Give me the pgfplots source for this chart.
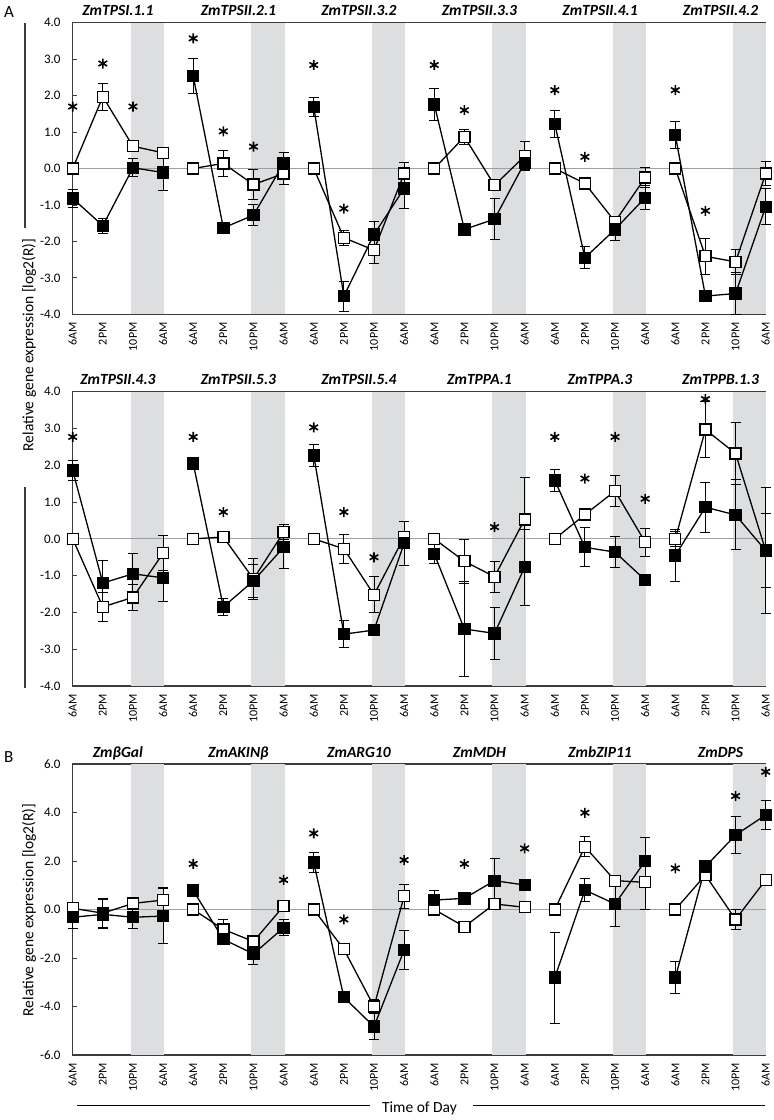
\documentclass[border=0pt]{standalone}
\usepackage{fontspec}
\setmainfont{Carlito}
\usepackage{pgfplots}
\usepackage{pgfplotstable}
\pgfplotsset{compat=1.18}

\definecolor{shade}{RGB}{221,222,224}
\definecolor{axgray}{RGB}{60,60,60}

% columns: x, open mean, open err, filled mean, filled err
\pgfplotstableread{
x o oe f fe
0 0 0 -0.82 0.25
1 1.97 0.37 -1.57 0.2
2 0.61 0.1 0.02 0.25
3 0.43 0.12 -0.11 0.5
3.5 nan nan nan nan
4 0 0 2.53 0.48
5 0.14 0.35 -1.63 0.05
6 -0.44 0.4 -1.28 0.28
7 -0.14 0.3 0.14 0.3
7.5 nan nan nan nan
8 0 0 1.69 0.27
9 -1.9 0.2 -3.5 0.41
10 -2.24 0.36 -1.81 0.35
11 -0.14 0.3 -0.55 0.55
11.5 nan nan nan nan
12 0 0 1.76 0.43
13 0.87 0.2 -1.67 0.1
14 -0.46 0.1 -1.39 0.57
15 0.34 0.4 0.16 0.2
15.5 nan nan nan nan
16 0 0 1.22 0.38
17 -0.41 0.05 -2.45 0.3
18 -1.46 0.1 -1.67 0.3
19 -0.25 0.28 -0.8 0.33
19.5 nan nan nan nan
20 0 0 0.91 0.37
21 -2.41 0.5 -3.5 0.05
22 -2.56 0.35 -3.43 0.57
23 -0.14 0.32 -1.05 0.5
}\rowA

\pgfplotstableread{
x y
0 1.7
1 2.88
2 1.7
4 3.57
5 1.02
6 0.6
8 2.84
9 -1.1
12 2.84
13 1.6
16 2.15
17 0.32
20 2.15
21 -1.16
}\astA

\pgfplotstableread{
x o oe f fe
0 0 0 1.86 0.27
1 -1.85 0.4 -1.2 0.6
2 -1.59 0.36 -0.95 0.55
3 -0.39 0.48 -1.06 0.63
3.5 nan nan nan nan
4 0 0 2.05 0.05
5 0.05 0.05 -1.85 0.22
6 -1.09 0.55 -1.14 0.45
7 0.18 0.2 -0.23 0.57
7.5 nan nan nan nan
8 0 0 2.27 0.3
9 -0.27 0.4 -2.59 0.36
10 -1.52 0.49 -2.48 0.15
11 0.05 0.15 -0.12 0.6
11.5 nan nan nan nan
12 0 0 -0.41 0.27
13 -0.61 0.6 -2.45 1.3
14 -1.03 0.42 -2.57 0.7
15 0.53 1.15 -0.77 1.03
15.5 nan nan nan nan
16 0 0 1.59 0.3
17 0.66 0.05 -0.23 0.53
18 1.3 0.43 -0.36 0.42
19 -0.09 0.38 -1.12 0.05
19.5 nan nan nan nan
20 0 0.2 -0.45 0.7
21 2.97 0.76 0.86 0.68
22 2.32 0.85 0.65 0.95
23 -0.32 1.0 -0.32 1.72
}\rowB

\pgfplotstableread{
x y
0 2.77
4 2.77
5 0.73
8 3.03
9 0.73
10 -0.5
14 0.32
16 2.77
17 1.64
18 2.77
19 1.09
21 3.80
}\astB

\pgfplotstableread{
x o oe f fe
0 0.05 0.05 -0.32 0.45
1 -0.15 0.6 -0.2 0.6
2 0.25 0.1 -0.32 0.45
3 0.39 0.5 -0.27 1.15
3.5 nan nan nan nan
4 0 0 0.78 0.05
5 -0.82 0.4 -1.23 0.1
6 -1.32 0.1 -1.83 0.45
7 0.14 0.1 -0.75 0.33
7.5 nan nan nan nan
8 0 0 1.94 0.4
9 -1.64 0.15 -3.62 0.05
10 -4.0 0.3 -4.83 0.55
11 0.55 0.5 -1.67 0.8
11.5 nan nan nan nan
12 0 0 0.39 0.4
13 -0.71 0.05 0.46 0.05
14 0.23 0.1 1.19 0.9
15 0.09 0.05 1.01 0.05
15.5 nan nan nan nan
16 0 0 -2.81 1.88
17 2.59 0.42 0.8 0.46
18 1.19 0.2 0.23 0.95
19 1.12 1.1 2.0 0.96
19.5 nan nan nan nan
20 0 0 -2.81 0.65
21 1.42 0.05 1.77 0.05
22 -0.41 0.43 3.07 0.75
23 1.22 0.1 3.9 0.6
}\rowC

\pgfplotstableread{
x y
4 1.88
7 1.22
8 3.14
9 -0.41
11 2.04
13 1.88
15 2.52
17 3.99
20 1.7
22 4.68
23 5.68
}\astC

\newcommand{\shades}[2]{%
\addplot[fill=shade, draw=none] coordinates {(1.93,#1) (1.93,#2) (3.03,#2) (3.03,#1)};
\addplot[fill=shade, draw=none] coordinates {(5.93,#1) (5.93,#2) (7.03,#2) (7.03,#1)};
\addplot[fill=shade, draw=none] coordinates {(9.93,#1) (9.93,#2) (11.03,#2) (11.03,#1)};
\addplot[fill=shade, draw=none] coordinates {(13.93,#1) (13.93,#2) (15.03,#2) (15.03,#1)};
\addplot[fill=shade, draw=none] coordinates {(17.93,#1) (17.93,#2) (19.03,#2) (19.03,#1)};
\addplot[fill=shade, draw=none] coordinates {(21.93,#1) (21.93,#2) (23,#2) (23,#1)};
\addplot[gray!75, line width=0.9pt] coordinates {(0,0) (23,0)};
}

\pgfplotsset{
  panel/.style={
    scale only axis, width=693pt, xmin=0, xmax=23, clip=false,
    axis line style={draw=axgray, line width=1.2pt},
    xtick={0,...,23},
    xticklabels={6AM,2PM,10PM,6AM,6AM,2PM,10PM,6AM,6AM,2PM,10PM,6AM,6AM,2PM,10PM,6AM,6AM,2PM,10PM,6AM,6AM,2PM,10PM,6AM},
    xtick style={draw=none},
    ytick style={draw=axgray, line width=0.8pt},
    major tick length=4pt, tick align=inside,
    xticklabel style={rotate=90, anchor=east, inner sep=0pt, font=\fontsize{12}{12}\selectfont},
    xticklabel shift=8pt,
    yticklabel style={anchor=east, inner sep=0pt, font=\fontsize{13}{13}\selectfont,
      /pgf/number format/.cd, fixed, fixed zerofill, precision=1},
    yticklabel shift=12pt,
    /pgf/number format/assume math mode=true,
    unbounded coords=jump,
  },
  oser/.style={black, line width=1.3pt, mark=square*, mark size=5.5pt,
    mark options={fill=white, draw=black, line width=1.3pt, solid},
    error bars/.cd, y dir=both, y explicit,
    error bar style={black, line width=1pt},
    error mark options={rotate=90, black, line width=1pt, mark size=5pt}},
  fser/.style={black, line width=1.3pt, mark=square*, mark size=5.5pt,
    mark options={fill=black, draw=black, line width=1.3pt, solid},
    error bars/.cd, y dir=both, y explicit,
    error bar style={black, line width=1pt},
    error mark options={rotate=90, black, line width=1pt, mark size=5pt}},
  ast/.style={only marks, mark=asterisk, mark size=5pt, mark options={black, line width=1.6pt}},
}
\tikzset{ptitle/.style={anchor=base, yshift=7pt, inner sep=0pt, font=\fontsize{15.5}{15.5}\selectfont\bfseries\itshape}}

\begin{document}
\begin{tikzpicture}
\useasboundingbox (0,0) rectangle (774pt,-1120pt);

% Row 1
\begin{axis}[panel, at={(72.7pt,-22.7pt)}, anchor=north west, height=291.6pt,
  ymin=-4, ymax=4, ytick={-4,...,4}]
\shades{-4}{4}
\addplot[oser] table[x=x, y=o, y error=oe] {\rowA};
\addplot[fser] table[x=x, y=f, y error=fe] {\rowA};
\addplot[ast] table[x=x, y=y] {\astA};
\node[ptitle] at (axis cs:1.5,4) {ZmTPSI.1.1};
\node[ptitle] at (axis cs:5.5,4) {ZmTPSII.2.1};
\node[ptitle] at (axis cs:9.5,4) {ZmTPSII.3.2};
\node[ptitle] at (axis cs:13.5,4) {ZmTPSII.3.3};
\node[ptitle] at (axis cs:17.5,4) {ZmTPSII.4.1};
\node[ptitle] at (axis cs:21.5,4) {ZmTPSII.4.2};
\end{axis}

% Row 2
\begin{axis}[panel, at={(72.7pt,-391.7pt)}, anchor=north west, height=294.3pt,
  ymin=-4, ymax=4, ytick={-4,...,4}]
\shades{-4}{4}
\addplot[oser] table[x=x, y=o, y error=oe] {\rowB};
\addplot[fser] table[x=x, y=f, y error=fe] {\rowB};
\addplot[ast] table[x=x, y=y] {\astB};
\node[ptitle] at (axis cs:1.5,4) {ZmTPSII.4.3};
\node[ptitle] at (axis cs:5.5,4) {ZmTPSII.5.3};
\node[ptitle] at (axis cs:9.5,4) {ZmTPSII.5.4};
\node[ptitle] at (axis cs:13.5,4) {ZmTPPA.1};
\node[ptitle] at (axis cs:17.5,4) {ZmTPPA.3};
\node[ptitle] at (axis cs:21.5,4) {ZmTPPB.1.3};
\end{axis}

% Row 3
\begin{axis}[panel, at={(72.7pt,-764pt)}, anchor=north west, height=291pt,
  ymin=-6, ymax=6, ytick={-6,-4,...,6}]
\shades{-6}{6}
\addplot[oser] table[x=x, y=o, y error=oe] {\rowC};
\addplot[fser] table[x=x, y=f, y error=fe] {\rowC};
\addplot[ast] table[x=x, y=y] {\astC};
\node[ptitle] at (axis cs:1.5,6) {ZmβGal};
\node[ptitle] at (axis cs:5.5,6) {ZmAKINβ};
\node[ptitle] at (axis cs:9.5,6) {ZmARG10};
\node[ptitle] at (axis cs:13.5,6) {ZmMDH};
\node[ptitle] at (axis cs:17.5,6) {ZmbZIP11};
\node[ptitle] at (axis cs:21.5,6) {ZmDPS};
\end{axis}

% panel letters and outer labels
\node[anchor=west, inner sep=0pt, font=\fontsize{17}{17}\selectfont] at (4pt,-12pt) {A};
\node[anchor=west, inner sep=0pt, font=\fontsize{17}{17}\selectfont] at (4pt,-757pt) {B};
\node[rotate=90, inner sep=0pt, font=\fontsize{15.5}{15.5}\selectfont] at (29pt,-345pt) {Relative gene expression [log2(R)]};
\node[rotate=90, inner sep=0pt, font=\fontsize{15.5}{15.5}\selectfont] at (29pt,-910pt) {Relative gene expression [log2(R)]};
\draw[axgray, line width=1.2pt] (25pt,-23pt) -- (25pt,-228pt);
\draw[axgray, line width=1.2pt] (25pt,-487pt) -- (25pt,-688pt);
\node[inner sep=0pt, font=\fontsize{15.5}{15.5}\selectfont] at (419.5pt,-1108pt) {Time of Day};
\draw[black, line width=1pt] (77pt,-1105pt) -- (370pt,-1105pt);
\draw[black, line width=1pt] (473pt,-1105pt) -- (765pt,-1105pt);
\end{tikzpicture}
\end{document}
